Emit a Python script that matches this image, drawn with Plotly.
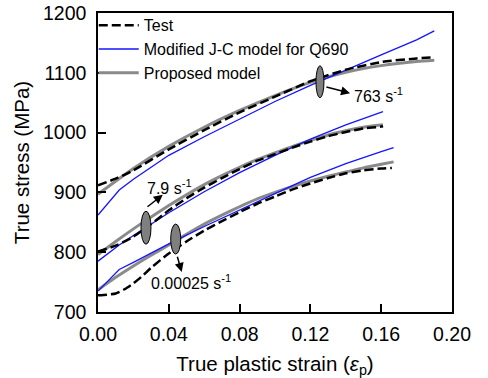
import plotly.graph_objects as go

# ---------------- data ----------------
# 763 s^-1
strain_test_763 = [0, 0.01, 0.02, 0.04, 0.06, 0.08, 0.10, 0.12, 0.14, 0.16, 0.18, 0.19]
stress_test_763 = [912, 923, 937, 972, 1004, 1034, 1060, 1086, 1105, 1118, 1124, 1126]
strain_jc_763 = [0, 0.012, 0.02, 0.04, 0.06, 0.08, 0.10, 0.12, 0.14, 0.16, 0.18, 0.19]
stress_jc_763 = [862, 904, 922, 962, 993, 1023, 1052, 1079, 1105, 1130, 1155, 1170]
strain_pm_763 = [0, 0.02, 0.04, 0.06, 0.08, 0.10, 0.12, 0.14, 0.16, 0.18, 0.19]
stress_pm_763 = [897, 940, 977, 1009, 1037, 1062, 1084, 1101, 1112, 1119, 1121]

# 7.9 s^-1
strain_test_79 = [0, 0.01, 0.02, 0.03, 0.04, 0.05, 0.06, 0.07, 0.08, 0.09, 0.10, 0.11, 0.12, 0.13, 0.14, 0.15, 0.16, 0.161]
stress_test_79 = [801, 811, 826, 847, 870, 890, 908, 924, 939, 953, 964, 975, 985, 994, 1001, 1007, 1010, 1011]
strain_jc_79 = [0, 0.012, 0.02, 0.04, 0.06, 0.08, 0.10, 0.12, 0.14, 0.161]
stress_jc_79 = [785, 812, 828, 866, 901, 933, 962, 989, 1013, 1035]
strain_pm_79 = [0, 0.01, 0.02, 0.03, 0.04, 0.05, 0.06, 0.07, 0.08, 0.09, 0.10, 0.11, 0.12, 0.13, 0.14, 0.15, 0.161]
stress_pm_79 = [796, 818, 839, 859, 878, 896, 913, 928, 942, 955, 966, 977, 987, 996, 1003, 1009, 1013]

# 0.00025 s^-1
strain_test_q = [0, 0.005, 0.01, 0.015, 0.02, 0.025, 0.03, 0.04, 0.05, 0.06, 0.07, 0.08, 0.09, 0.10, 0.11, 0.12, 0.13, 0.14, 0.15, 0.16, 0.166]
stress_test_q = [728, 729, 731, 738, 748, 760, 774, 798, 818, 836, 852, 867, 881, 893, 905, 915, 924, 932, 937, 940, 941]
strain_jc_q = [0, 0.012, 0.02, 0.04, 0.06, 0.08, 0.10, 0.12, 0.14, 0.16, 0.167]
stress_jc_q = [735, 771, 783, 814, 843, 871, 898, 925, 948, 968, 975]
strain_pm_q = [0, 0.01, 0.02, 0.03, 0.04, 0.05, 0.06, 0.07, 0.08, 0.09, 0.10, 0.11, 0.12, 0.13, 0.14, 0.15, 0.16, 0.167]
stress_pm_q = [737, 758, 777, 795, 812, 830, 847, 862, 876, 889, 900, 910, 919, 927, 934, 941, 947, 951]

x_ticks = [0.00, 0.04, 0.08, 0.12, 0.16, 0.20]
x_tick_labels = ["0.00", "0.04", "0.08", "0.12", "0.16", "0.20"]
y_ticks = [700, 800, 900, 1000, 1100, 1200]

legend_names = ["Test", "Modified J-C model for Q690", "Proposed model"]

# rate labels: ellipse centre, arrow tail, arrow head, label anchor
rate_labels = ["763 s<sup>-1</sup>", "7.9 s<sup>-1</sup>", "0.00025 s<sup>-1</sup>"]
ellipse_x = [0.1254, 0.0271, 0.0439]
ellipse_y = [1085, 841, 822]
ellipse_w = [8, 10, 10]
ellipse_h = [32, 33, 30]
arrow_tail_x = [0.1282, 0.0271, 0.0446]
arrow_tail_y = [1077, 874, 795]
arrow_head_x = [0.1424, 0.0366, 0.0473]
arrow_head_y = [1066, 896, 767]
label_x = [0.1437, 0.0264, 0.0286]
label_y = [1063, 909, 751]

FONT = "Arial, Liberation Sans, sans-serif"
GRAY = "#8a8a8a"
BLUE = "#1414ff"

fig = go.Figure()

groups = [
    (strain_test_763, stress_test_763, strain_jc_763, stress_jc_763, strain_pm_763, stress_pm_763),
    (strain_test_79, stress_test_79, strain_jc_79, stress_jc_79, strain_pm_79, stress_pm_79),
    (strain_test_q, stress_test_q, strain_jc_q, stress_jc_q, strain_pm_q, stress_pm_q),
]

for i, g in enumerate(groups):
    fig.add_trace(go.Scatter(x=g[4], y=g[5], mode="lines", name=legend_names[2],
                             line=dict(color=GRAY, width=3, shape="spline", smoothing=0.6),
                             legendgroup="pm", showlegend=(i == 0), legendrank=3))
for i, g in enumerate(groups):
    fig.add_trace(go.Scatter(x=g[2], y=g[3], mode="lines", name=legend_names[1],
                             line=dict(color=BLUE, width=1.3),
                             legendgroup="jc", showlegend=(i == 0), legendrank=2))
for i, g in enumerate(groups):
    fig.add_trace(go.Scatter(x=g[0], y=g[1], mode="lines", name=legend_names[0],
                             line=dict(color="black", width=2.5, dash="9px,4px", shape="spline", smoothing=0.6),
                             legendgroup="test", showlegend=(i == 0), legendrank=1))

for i in range(3):
    fig.add_shape(type="circle", xref="x", yref="y", xsizemode="pixel", ysizemode="pixel",
                  xanchor=ellipse_x[i], yanchor=ellipse_y[i],
                  x0=-ellipse_w[i] / 2, x1=ellipse_w[i] / 2,
                  y0=-ellipse_h[i] / 2, y1=ellipse_h[i] / 2,
                  fillcolor="#7f7f7f", line=dict(color="black", width=1))
    fig.add_annotation(x=arrow_head_x[i], y=arrow_head_y[i], ax=arrow_tail_x[i], ay=arrow_tail_y[i],
                       xref="x", yref="y", axref="x", ayref="y", text="",
                       showarrow=True, arrowhead=2, arrowsize=1.2, arrowwidth=1.5, arrowcolor="black")
    fig.add_annotation(x=label_x[i], y=label_y[i], xref="x", yref="y", text=rate_labels[i],
                       showarrow=False, xanchor="left", yanchor="middle",
                       font=dict(family=FONT, size=16, color="black"))

axis_common = dict(showline=True, linecolor="black", linewidth=1.5, mirror=True,
                   ticks="inside", ticklen=8, tickwidth=1.5, tickcolor="black",
                   showgrid=False, zeroline=False,
                   tickfont=dict(family=FONT, size=19.5, color="black"))

fig.update_xaxes(range=[0, 0.2], tickvals=x_ticks, ticktext=x_tick_labels,
                 title=dict(text="True plastic strain (<i>ε</i><sub>p</sub>)",
                            font=dict(family=FONT, size=20.5, color="black"), standoff=13),
                 ticklabelstandoff=4, **axis_common)
fig.update_yaxes(range=[700, 1200], tickvals=y_ticks,
                 title=dict(text="True stress (MPa)",
                            font=dict(family=FONT, size=20.5, color="black"), standoff=8),
                 ticklabelstandoff=6, **axis_common)

fig.update_layout(
    width=488, height=378,
    margin=dict(l=98, r=36, t=13, b=66, autoexpand=False),
    paper_bgcolor="white", plot_bgcolor="white",
    showlegend=True,
    legend=dict(x=-0.012, y=0.978, xref="paper", yref="container",
                xanchor="left", yanchor="top", bgcolor="rgba(0,0,0,0)",
                borderwidth=0, font=dict(family=FONT, size=16, color="black"),
                itemwidth=40, tracegroupgap=0),
)

fig.write_html("out.html")
